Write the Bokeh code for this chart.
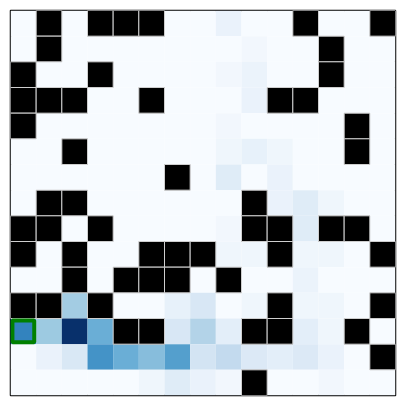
from bokeh.plotting import figure
from bokeh.models import Range1d, ColumnDataSource, LinearColorMapper
from bokeh.palettes import Blues256
from bokeh.embed import file_html
from bokeh.resources import INLINE

N = 15
# visit values per cell (row 0 = top), normalised 0..1
values = [
    [0, 0, 0, 0, 0, 0, 0, 0, .07, 0, 0, 0, 0, 0, 0],
    [0, 0, 0, 0, 0, 0, 0, 0, 0, .03, 0, 0, 0, 0, 0],
    [0, 0, 0, 0, 0, 0, 0, 0, .03, .06, 0, 0, 0, 0, 0],
    [0, 0, 0, 0, 0, 0, 0, 0, 0, .07, 0, 0, 0, 0, 0],
    [0, 0, 0, 0, 0, 0, 0, 0, .03, 0, 0, 0, 0, 0, 0],
    [0, 0, 0, 0, 0, 0, 0, 0, .04, .08, .04, 0, 0, 0, 0],
    [0, 0, 0, 0, 0, 0, 0, 0, .12, 0, .07, 0, 0, 0, 0],
    [0, 0, 0, 0, 0, 0, 0, 0, 0, 0, .07, .12, .04, 0, 0],
    [0, 0, 0, 0, 0, 0, 0, 0, .03, 0, 0, .12, 0, 0, 0],
    [0, 0, 0, 0, 0, 0, 0, 0, .04, .04, 0, .04, .04, 0, 0],
    [0, 0, 0, 0, 0, 0, 0, 0, 0, 0, 0, .06, 0, 0, 0],
    [0, 0, .36, 0, 0, 0, .08, .16, 0, .04, 0, .04, .04, 0, 0],
    [.68, .375, 1.0, .5, 0, 0, .16, .31, .1, 0, 0, .1, .04, 0, 0],
    [0, .07, .15, .62, .5, .43, .57, .18, .26, .14, .1, .14, .07, 0, 0],
    [0, 0, 0, 0, 0, .04, .12, .07, .03, 0, 0, 0, .03, 0, 0],
]

wall_rows = [0, 0, 0, 0, 0, 0,
             1, 1,
             2, 2, 2,
             3, 3, 3, 3, 3, 3,
             4, 4,
             5, 5,
             6,
             7, 7, 7,
             8, 8, 8, 8, 8, 8, 8,
             9, 9, 9, 9, 9, 9, 9,
             10, 10, 10, 10, 10,
             11, 11, 11, 11, 11,
             12, 12, 12, 12, 12,
             13,
             14]
wall_cols = [1, 3, 4, 5, 11, 14,
             1, 12,
             0, 3, 12,
             0, 1, 2, 5, 10, 11,
             0, 13,
             2, 13,
             6,
             1, 2, 9,
             0, 1, 3, 9, 10, 12, 13,
             0, 2, 5, 6, 7, 10, 14,
             2, 4, 5, 6, 8,
             0, 1, 3, 10, 14,
             4, 5, 9, 10, 13,
             14,
             9]

agent_row = 12
agent_col = 0

xs, ys, vs = [], [], []
for r in range(N):
    for c in range(N):
        xs.append(c + 0.5)
        ys.append(r + 0.5)
        vs.append(values[r][c])

p = figure(width=405, height=405, output_backend="svg", toolbar_location=None,
           x_range=Range1d(0, N), y_range=Range1d(N, 0),
           min_border_left=10, min_border_right=10, min_border_top=10, min_border_bottom=10)
p.axis.visible = False
p.xgrid.visible = False
p.ygrid.visible = False
p.outline_line_color = "black"
p.outline_line_width = 1.5

mapper = LinearColorMapper(palette=list(reversed(Blues256)), low=0, high=1)
src = ColumnDataSource(dict(x=xs, y=ys, v=vs))
p.rect("x", "y", width=1, height=1, source=src,
       fill_color={"field": "v", "transform": mapper}, line_color=None)

wsrc = ColumnDataSource(dict(x=[c + 0.5 for c in wall_cols], y=[r + 0.5 for r in wall_rows]))
p.rect("x", "y", width=1, height=1, source=wsrc, fill_color="black",
       line_color="#cfcfcf", line_width=1)

p.rect([agent_col + 0.5], [agent_row + 0.5], width=0.85, height=0.85,
       fill_color=None, line_color="#008000", line_width=4)

open("out.html", "w").write(file_html(p, INLINE))
